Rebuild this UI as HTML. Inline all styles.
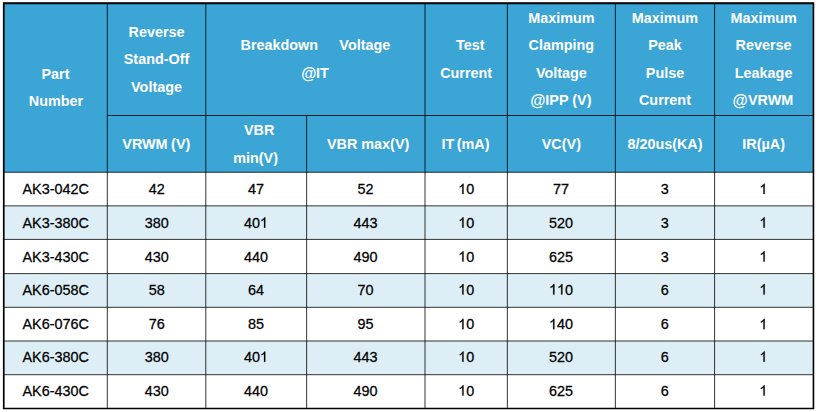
<!DOCTYPE html>
<html><head><meta charset="utf-8"><title>table</title>
<style>
html,body{margin:0;padding:0;background:#fff;}
body{width:818px;height:412px;position:relative;overflow:hidden;font-family:"Liberation Sans",sans-serif;}
.bg{position:absolute;left:0;top:0;}
.h,.c{position:absolute;width:300px;height:20.0px;line-height:20.0px;text-align:center;white-space:pre;}
.h{color:#fff;font-weight:bold;font-size:14.4px;}
.c{color:#000;font-size:14.4px;-webkit-text-stroke:0.25px #000;}
.at{display:inline-block;transform:scale(1.08,1.12);transform-origin:100% 4.5px;}
.o{display:inline-block;width:0.5562em;height:0.6911em;vertical-align:baseline;overflow:visible;}
</style></head><body>

<svg class="bg" width="818" height="412" viewBox="0 0 818 412">
<rect x="3.4" y="2.75" width="810.35" height="169.5" fill="#3ba5d6"/>
<rect x="3.4" y="205.85" width="810.35" height="33.55" fill="#ddeef6"/>
<rect x="3.4" y="273.6" width="810.35" height="33.70" fill="#ddeef6"/>
<rect x="3.4" y="341.0" width="810.35" height="33.70" fill="#ddeef6"/>
<line x1="107.3" y1="3.25" x2="107.3" y2="408.35" stroke="#000" stroke-width="0.8"/>
<line x1="205.8" y1="3.25" x2="205.8" y2="408.35" stroke="#000" stroke-width="0.8"/>
<line x1="306.65" y1="115.5" x2="306.65" y2="408.35" stroke="#000" stroke-width="0.8"/>
<line x1="425.0" y1="3.25" x2="425.0" y2="408.35" stroke="#000" stroke-width="0.8"/>
<line x1="507.35" y1="3.25" x2="507.35" y2="408.35" stroke="#000" stroke-width="0.8"/>
<line x1="615.35" y1="3.25" x2="615.35" y2="408.35" stroke="#000" stroke-width="0.8"/>
<line x1="714.6" y1="3.25" x2="714.6" y2="408.35" stroke="#000" stroke-width="0.8"/>
<line x1="107.3" y1="115.5" x2="813.25" y2="115.5" stroke="#000" stroke-width="0.8"/>
<line x1="3.9" y1="172.25" x2="813.25" y2="172.25" stroke="#000" stroke-width="0.8"/>
<line x1="3.9" y1="205.85" x2="813.25" y2="205.85" stroke="#000" stroke-width="0.8"/>
<line x1="3.9" y1="239.4" x2="813.25" y2="239.4" stroke="#000" stroke-width="0.8"/>
<line x1="3.9" y1="273.6" x2="813.25" y2="273.6" stroke="#000" stroke-width="0.8"/>
<line x1="3.9" y1="307.3" x2="813.25" y2="307.3" stroke="#000" stroke-width="0.8"/>
<line x1="3.9" y1="341.0" x2="813.25" y2="341.0" stroke="#000" stroke-width="0.8"/>
<line x1="3.9" y1="374.7" x2="813.25" y2="374.7" stroke="#000" stroke-width="0.8"/>
<path fill="#000" fill-rule="evenodd" d="M2.9 2.25H814.25V409.35H2.9Z M4.6 4.15V407.70H812.65V4.15Z"/>
</svg>
<div class="h" style="left:-95px;top:63px;transform-origin:50% 14.99px;transform:translate(0.45px,0.92px) scaleY(1.02)">Part</div>
<div class="h" style="left:-95px;top:91px;transform-origin:50% 14.99px;transform:translate(0.95px,0.42px) scaleY(1.02)">Number</div>
<div class="h" style="left:6px;top:21px;transform-origin:50% 14.99px;transform:translate(0.55px,0.79px) scaleY(1.02)">Reverse</div>
<div class="h" style="left:6px;top:49px;transform-origin:50% 14.99px;transform:translate(0.55px,0.29px) scaleY(1.02)">Stand-Off</div>
<div class="h" style="left:6px;top:76px;transform-origin:50% 14.99px;transform:translate(0.55px,0.79px) scaleY(1.02)">Voltage</div>
<div class="h" style="left:165px;top:34px;transform-origin:50% 14.99px;transform:translate(0.40px,0.54px) scaleY(1.02)"><span style="word-spacing:0.25px">Breakdown     Voltage</span></div>
<div class="h" style="left:165px;top:63px;transform-origin:50% 14.99px;transform:translate(0.40px,0.04px) scaleY(1.02)"><span class="at">@</span>IT</div>
<div class="h" style="left:320px;top:34px;transform-origin:50% 14.99px;transform:translate(0.38px,0.54px) scaleY(1.02)">Test</div>
<div class="h" style="left:316px;top:63px;transform-origin:50% 14.99px;transform:translate(0.18px,0.04px) scaleY(1.02)">Current</div>
<div class="h" style="left:411px;top:8px;transform-origin:50% 14.99px;transform:translate(0.35px,0.04px) scaleY(1.02)">Maximum</div>
<div class="h" style="left:411px;top:34px;transform-origin:50% 14.99px;transform:translate(0.35px,0.54px) scaleY(1.02)">Clamping</div>
<div class="h" style="left:411px;top:63px;transform-origin:50% 14.99px;transform:translate(0.35px,0.04px) scaleY(1.02)">Voltage</div>
<div class="h" style="left:411px;top:89px;transform-origin:50% 14.99px;transform:translate(0.35px,0.54px) scaleY(1.02)"><span class="at">@</span>IPP (V)</div>
<div class="h" style="left:514px;top:8px;transform-origin:50% 14.99px;transform:translate(0.98px,0.04px) scaleY(1.02)">Maximum</div>
<div class="h" style="left:514px;top:34px;transform-origin:50% 14.99px;transform:translate(0.98px,0.54px) scaleY(1.02)">Peak</div>
<div class="h" style="left:514px;top:63px;transform-origin:50% 14.99px;transform:translate(0.98px,0.04px) scaleY(1.02)">Pulse</div>
<div class="h" style="left:514px;top:89px;transform-origin:50% 14.99px;transform:translate(0.98px,0.54px) scaleY(1.02)">Current</div>
<div class="h" style="left:613px;top:8px;transform-origin:50% 14.99px;transform:translate(0.62px,0.04px) scaleY(1.02)">Maximum</div>
<div class="h" style="left:613px;top:34px;transform-origin:50% 14.99px;transform:translate(0.62px,0.54px) scaleY(1.02)">Reverse</div>
<div class="h" style="left:613px;top:63px;transform-origin:50% 14.99px;transform:translate(0.62px,0.04px) scaleY(1.02)">Leakage</div>
<div class="h" style="left:613px;top:89px;transform-origin:50% 14.99px;transform:translate(0.62px,0.54px) scaleY(1.02)"><span class="at">@</span>VRWM</div>
<div class="h" style="left:6px;top:134px;transform-origin:50% 14.99px;transform:translate(0.30px,0.34px) scaleY(1.02)"><span style="word-spacing:-0.5px">VRWM (V)</span></div>
<div class="h" style="left:109px;top:119px;transform-origin:50% 14.99px;transform:translate(0.12px,0.59px) scaleY(1.02)">VBR</div>
<div class="h" style="left:105px;top:148px;transform-origin:50% 14.99px;transform:translate(0.63px,0.09px) scaleY(1.02)">min(V)</div>
<div class="h" style="left:218px;top:134px;transform-origin:50% 14.99px;transform:translate(0.12px,0.34px) scaleY(1.02)">VBR max(V)</div>
<div class="h" style="left:315px;top:134px;transform-origin:50% 14.99px;transform:translate(0.48px,0.34px) scaleY(1.02)"><span style="word-spacing:-1.4px">IT (mA)</span></div>
<div class="h" style="left:411px;top:134px;transform-origin:50% 14.99px;transform:translate(0.35px,0.34px) scaleY(1.02)">VC(V)</div>
<div class="h" style="left:514px;top:134px;transform-origin:50% 14.99px;transform:translate(0.98px,0.34px) scaleY(1.02)">8/20us(KA)</div>
<div class="h" style="left:613px;top:134px;transform-origin:50% 14.99px;transform:translate(0.62px,0.34px) scaleY(1.02)">IR(µA)</div>
<div class="c" style="left:-95px;top:179px;transform-origin:50% 14.99px;transform:translate(0.65px,0.12px) scaleY(1.04)">AK3-042C</div>
<div class="c" style="left:6px;top:179px;transform-origin:50% 14.99px;transform:translate(0.75px,0.12px) scaleY(1.04)">42</div>
<div class="c" style="left:105px;top:179px;transform-origin:50% 14.99px;transform:translate(0.93px,0.12px) scaleY(1.04)">47</div>
<div class="c" style="left:215px;top:179px;transform-origin:50% 14.99px;transform:translate(0.52px,0.12px) scaleY(1.04)">52</div>
<div class="c" style="left:316px;top:179px;transform-origin:50% 14.99px;transform:translate(0.18px,0.12px) scaleY(1.04)"><svg class="o" viewBox="0 0 1139 1472" preserveAspectRatio="none"><path transform="matrix(1 0 0 -1 0 1472)" d="M763 0H583V1147Q518 1085 412.5 1023T223 930V1104Q374 1175 487 1276T647 1472H763Z" fill="#000" stroke="#000" stroke-width="34"/></svg>0</div>
<div class="c" style="left:411px;top:179px;transform-origin:50% 14.99px;transform:translate(0.05px,0.12px) scaleY(1.04)">77</div>
<div class="c" style="left:514px;top:179px;transform-origin:50% 14.99px;transform:translate(0.68px,0.12px) scaleY(1.04)">3</div>
<div class="c" style="left:613px;top:179px;transform-origin:50% 14.99px;transform:translate(0.33px,0.12px) scaleY(1.04)"><svg class="o" viewBox="0 0 1139 1472" preserveAspectRatio="none"><path transform="matrix(1 0 0 -1 0 1472)" d="M763 0H583V1147Q518 1085 412.5 1023T223 930V1104Q374 1175 487 1276T647 1472H763Z" fill="#000" stroke="#000" stroke-width="34"/></svg></div>
<div class="c" style="left:-95px;top:212px;transform-origin:50% 14.99px;transform:translate(0.65px,0.69px) scaleY(1.04)">AK3-380C</div>
<div class="c" style="left:6px;top:212px;transform-origin:50% 14.99px;transform:translate(0.75px,0.69px) scaleY(1.04)">380</div>
<div class="c" style="left:105px;top:212px;transform-origin:50% 14.99px;transform:translate(0.93px,0.69px) scaleY(1.04)">40<svg class="o" viewBox="0 0 1139 1472" preserveAspectRatio="none"><path transform="matrix(1 0 0 -1 0 1472)" d="M763 0H583V1147Q518 1085 412.5 1023T223 930V1104Q374 1175 487 1276T647 1472H763Z" fill="#000" stroke="#000" stroke-width="34"/></svg></div>
<div class="c" style="left:215px;top:212px;transform-origin:50% 14.99px;transform:translate(0.52px,0.69px) scaleY(1.04)">443</div>
<div class="c" style="left:316px;top:212px;transform-origin:50% 14.99px;transform:translate(0.18px,0.69px) scaleY(1.04)"><svg class="o" viewBox="0 0 1139 1472" preserveAspectRatio="none"><path transform="matrix(1 0 0 -1 0 1472)" d="M763 0H583V1147Q518 1085 412.5 1023T223 930V1104Q374 1175 487 1276T647 1472H763Z" fill="#000" stroke="#000" stroke-width="34"/></svg>0</div>
<div class="c" style="left:411px;top:212px;transform-origin:50% 14.99px;transform:translate(0.05px,0.69px) scaleY(1.04)">520</div>
<div class="c" style="left:514px;top:212px;transform-origin:50% 14.99px;transform:translate(0.68px,0.69px) scaleY(1.04)">3</div>
<div class="c" style="left:613px;top:212px;transform-origin:50% 14.99px;transform:translate(0.33px,0.69px) scaleY(1.04)"><svg class="o" viewBox="0 0 1139 1472" preserveAspectRatio="none"><path transform="matrix(1 0 0 -1 0 1472)" d="M763 0H583V1147Q518 1085 412.5 1023T223 930V1104Q374 1175 487 1276T647 1472H763Z" fill="#000" stroke="#000" stroke-width="34"/></svg></div>
<div class="c" style="left:-95px;top:246px;transform-origin:50% 14.99px;transform:translate(0.65px,0.57px) scaleY(1.04)">AK3-430C</div>
<div class="c" style="left:6px;top:246px;transform-origin:50% 14.99px;transform:translate(0.75px,0.57px) scaleY(1.04)">430</div>
<div class="c" style="left:105px;top:246px;transform-origin:50% 14.99px;transform:translate(0.93px,0.57px) scaleY(1.04)">440</div>
<div class="c" style="left:215px;top:246px;transform-origin:50% 14.99px;transform:translate(0.52px,0.57px) scaleY(1.04)">490</div>
<div class="c" style="left:316px;top:246px;transform-origin:50% 14.99px;transform:translate(0.18px,0.57px) scaleY(1.04)"><svg class="o" viewBox="0 0 1139 1472" preserveAspectRatio="none"><path transform="matrix(1 0 0 -1 0 1472)" d="M763 0H583V1147Q518 1085 412.5 1023T223 930V1104Q374 1175 487 1276T647 1472H763Z" fill="#000" stroke="#000" stroke-width="34"/></svg>0</div>
<div class="c" style="left:411px;top:246px;transform-origin:50% 14.99px;transform:translate(0.05px,0.57px) scaleY(1.04)">625</div>
<div class="c" style="left:514px;top:246px;transform-origin:50% 14.99px;transform:translate(0.68px,0.57px) scaleY(1.04)">3</div>
<div class="c" style="left:613px;top:246px;transform-origin:50% 14.99px;transform:translate(0.33px,0.57px) scaleY(1.04)"><svg class="o" viewBox="0 0 1139 1472" preserveAspectRatio="none"><path transform="matrix(1 0 0 -1 0 1472)" d="M763 0H583V1147Q518 1085 412.5 1023T223 930V1104Q374 1175 487 1276T647 1472H763Z" fill="#000" stroke="#000" stroke-width="34"/></svg></div>
<div class="c" style="left:-95px;top:279px;transform-origin:50% 14.99px;transform:translate(0.65px,0.52px) scaleY(1.04)">AK6-058C</div>
<div class="c" style="left:6px;top:279px;transform-origin:50% 14.99px;transform:translate(0.75px,0.52px) scaleY(1.04)">58</div>
<div class="c" style="left:105px;top:279px;transform-origin:50% 14.99px;transform:translate(0.93px,0.52px) scaleY(1.04)">64</div>
<div class="c" style="left:215px;top:279px;transform-origin:50% 14.99px;transform:translate(0.52px,0.52px) scaleY(1.04)">70</div>
<div class="c" style="left:316px;top:279px;transform-origin:50% 14.99px;transform:translate(0.18px,0.52px) scaleY(1.04)"><svg class="o" viewBox="0 0 1139 1472" preserveAspectRatio="none"><path transform="matrix(1 0 0 -1 0 1472)" d="M763 0H583V1147Q518 1085 412.5 1023T223 930V1104Q374 1175 487 1276T647 1472H763Z" fill="#000" stroke="#000" stroke-width="34"/></svg>0</div>
<div class="c" style="left:411px;top:279px;transform-origin:50% 14.99px;transform:translate(0.05px,0.52px) scaleY(1.04)"><svg class="o" viewBox="0 0 1139 1472" preserveAspectRatio="none"><path transform="matrix(1 0 0 -1 0 1472)" d="M763 0H583V1147Q518 1085 412.5 1023T223 930V1104Q374 1175 487 1276T647 1472H763Z" fill="#000" stroke="#000" stroke-width="34"/></svg><svg class="o" viewBox="0 0 1139 1472" preserveAspectRatio="none"><path transform="matrix(1 0 0 -1 0 1472)" d="M763 0H583V1147Q518 1085 412.5 1023T223 930V1104Q374 1175 487 1276T647 1472H763Z" fill="#000" stroke="#000" stroke-width="34"/></svg>0</div>
<div class="c" style="left:514px;top:279px;transform-origin:50% 14.99px;transform:translate(0.68px,0.52px) scaleY(1.04)">6</div>
<div class="c" style="left:613px;top:279px;transform-origin:50% 14.99px;transform:translate(0.33px,0.52px) scaleY(1.04)"><svg class="o" viewBox="0 0 1139 1472" preserveAspectRatio="none"><path transform="matrix(1 0 0 -1 0 1472)" d="M763 0H583V1147Q518 1085 412.5 1023T223 930V1104Q374 1175 487 1276T647 1472H763Z" fill="#000" stroke="#000" stroke-width="34"/></svg></div>
<div class="c" style="left:-95px;top:314px;transform-origin:50% 14.99px;transform:translate(0.65px,0.22px) scaleY(1.04)">AK6-076C</div>
<div class="c" style="left:6px;top:314px;transform-origin:50% 14.99px;transform:translate(0.75px,0.22px) scaleY(1.04)">76</div>
<div class="c" style="left:105px;top:314px;transform-origin:50% 14.99px;transform:translate(0.93px,0.22px) scaleY(1.04)">85</div>
<div class="c" style="left:215px;top:314px;transform-origin:50% 14.99px;transform:translate(0.52px,0.22px) scaleY(1.04)">95</div>
<div class="c" style="left:316px;top:314px;transform-origin:50% 14.99px;transform:translate(0.18px,0.22px) scaleY(1.04)"><svg class="o" viewBox="0 0 1139 1472" preserveAspectRatio="none"><path transform="matrix(1 0 0 -1 0 1472)" d="M763 0H583V1147Q518 1085 412.5 1023T223 930V1104Q374 1175 487 1276T647 1472H763Z" fill="#000" stroke="#000" stroke-width="34"/></svg>0</div>
<div class="c" style="left:411px;top:314px;transform-origin:50% 14.99px;transform:translate(0.05px,0.22px) scaleY(1.04)"><svg class="o" viewBox="0 0 1139 1472" preserveAspectRatio="none"><path transform="matrix(1 0 0 -1 0 1472)" d="M763 0H583V1147Q518 1085 412.5 1023T223 930V1104Q374 1175 487 1276T647 1472H763Z" fill="#000" stroke="#000" stroke-width="34"/></svg>40</div>
<div class="c" style="left:514px;top:314px;transform-origin:50% 14.99px;transform:translate(0.68px,0.22px) scaleY(1.04)">6</div>
<div class="c" style="left:613px;top:314px;transform-origin:50% 14.99px;transform:translate(0.33px,0.22px) scaleY(1.04)"><svg class="o" viewBox="0 0 1139 1472" preserveAspectRatio="none"><path transform="matrix(1 0 0 -1 0 1472)" d="M763 0H583V1147Q518 1085 412.5 1023T223 930V1104Q374 1175 487 1276T647 1472H763Z" fill="#000" stroke="#000" stroke-width="34"/></svg></div>
<div class="c" style="left:-95px;top:346px;transform-origin:50% 14.99px;transform:translate(0.65px,0.92px) scaleY(1.04)">AK6-380C</div>
<div class="c" style="left:6px;top:346px;transform-origin:50% 14.99px;transform:translate(0.75px,0.92px) scaleY(1.04)">380</div>
<div class="c" style="left:105px;top:346px;transform-origin:50% 14.99px;transform:translate(0.93px,0.92px) scaleY(1.04)">40<svg class="o" viewBox="0 0 1139 1472" preserveAspectRatio="none"><path transform="matrix(1 0 0 -1 0 1472)" d="M763 0H583V1147Q518 1085 412.5 1023T223 930V1104Q374 1175 487 1276T647 1472H763Z" fill="#000" stroke="#000" stroke-width="34"/></svg></div>
<div class="c" style="left:215px;top:346px;transform-origin:50% 14.99px;transform:translate(0.52px,0.92px) scaleY(1.04)">443</div>
<div class="c" style="left:316px;top:346px;transform-origin:50% 14.99px;transform:translate(0.18px,0.92px) scaleY(1.04)"><svg class="o" viewBox="0 0 1139 1472" preserveAspectRatio="none"><path transform="matrix(1 0 0 -1 0 1472)" d="M763 0H583V1147Q518 1085 412.5 1023T223 930V1104Q374 1175 487 1276T647 1472H763Z" fill="#000" stroke="#000" stroke-width="34"/></svg>0</div>
<div class="c" style="left:411px;top:346px;transform-origin:50% 14.99px;transform:translate(0.05px,0.92px) scaleY(1.04)">520</div>
<div class="c" style="left:514px;top:346px;transform-origin:50% 14.99px;transform:translate(0.68px,0.92px) scaleY(1.04)">6</div>
<div class="c" style="left:613px;top:346px;transform-origin:50% 14.99px;transform:translate(0.33px,0.92px) scaleY(1.04)"><svg class="o" viewBox="0 0 1139 1472" preserveAspectRatio="none"><path transform="matrix(1 0 0 -1 0 1472)" d="M763 0H583V1147Q518 1085 412.5 1023T223 930V1104Q374 1175 487 1276T647 1472H763Z" fill="#000" stroke="#000" stroke-width="34"/></svg></div>
<div class="c" style="left:-95px;top:380px;transform-origin:50% 14.99px;transform:translate(0.65px,0.67px) scaleY(1.04)">AK6-430C</div>
<div class="c" style="left:6px;top:380px;transform-origin:50% 14.99px;transform:translate(0.75px,0.67px) scaleY(1.04)">430</div>
<div class="c" style="left:105px;top:380px;transform-origin:50% 14.99px;transform:translate(0.93px,0.67px) scaleY(1.04)">440</div>
<div class="c" style="left:215px;top:380px;transform-origin:50% 14.99px;transform:translate(0.52px,0.67px) scaleY(1.04)">490</div>
<div class="c" style="left:316px;top:380px;transform-origin:50% 14.99px;transform:translate(0.18px,0.67px) scaleY(1.04)"><svg class="o" viewBox="0 0 1139 1472" preserveAspectRatio="none"><path transform="matrix(1 0 0 -1 0 1472)" d="M763 0H583V1147Q518 1085 412.5 1023T223 930V1104Q374 1175 487 1276T647 1472H763Z" fill="#000" stroke="#000" stroke-width="34"/></svg>0</div>
<div class="c" style="left:411px;top:380px;transform-origin:50% 14.99px;transform:translate(0.05px,0.67px) scaleY(1.04)">625</div>
<div class="c" style="left:514px;top:380px;transform-origin:50% 14.99px;transform:translate(0.68px,0.67px) scaleY(1.04)">6</div>
<div class="c" style="left:613px;top:380px;transform-origin:50% 14.99px;transform:translate(0.33px,0.67px) scaleY(1.04)"><svg class="o" viewBox="0 0 1139 1472" preserveAspectRatio="none"><path transform="matrix(1 0 0 -1 0 1472)" d="M763 0H583V1147Q518 1085 412.5 1023T223 930V1104Q374 1175 487 1276T647 1472H763Z" fill="#000" stroke="#000" stroke-width="34"/></svg></div>
</body></html>
